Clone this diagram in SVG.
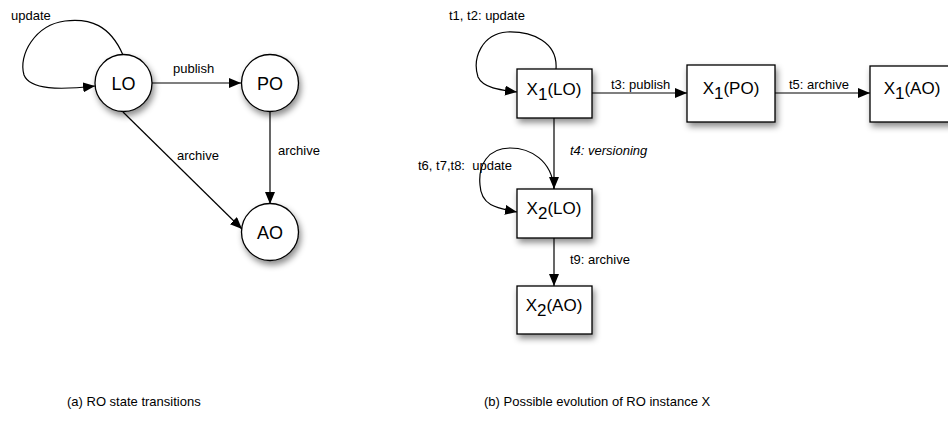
<svg xmlns="http://www.w3.org/2000/svg" width="948" height="424" viewBox="0 0 948 424">
<defs>
<style>
.lbl{font-family:"Liberation Sans",Arial,sans-serif;font-size:13px;fill:#000}
.node{font-family:"Liberation Sans",Arial,sans-serif;font-size:17px;fill:#000}
.st{font-family:"Liberation Sans",Arial,sans-serif;font-size:18px;fill:#000}
.shape{fill:#fff;stroke:#000;stroke-width:1.3;filter:url(#sh)}
.edge{fill:none;stroke:#000;stroke-width:1.2;marker-end:url(#ah)}
</style>
<filter id="sh" x="-30%" y="-30%" width="170%" height="170%">
<feDropShadow dx="2" dy="4" stdDeviation="3" flood-color="#000" flood-opacity="0.45"/>
</filter>
<marker id="ah" markerUnits="userSpaceOnUse" markerWidth="12" markerHeight="10" refX="12" refY="5" orient="auto">
<path d="M0,0 L12,5 L0,10 z" fill="#000"/>
</marker>
</defs>

<g id="connectors">
<path class="edge" d="M123,55 C110,25 90,18 65,21 C35,25 18,55 24,75 C30,90 60,90 95,86"/>
<line class="edge" x1="152" y1="83" x2="241" y2="83"/>
<line class="edge" x1="123" y1="112" x2="242" y2="229"/>
<line class="edge" x1="270" y1="111" x2="270" y2="204"/>
<path class="edge" d="M556,69 C558,42 532,31 507,32 C482,34 472,58 478,77 C483,88 500,90 517,92"/>
<line class="edge" x1="592" y1="93" x2="687" y2="93"/>
<line class="edge" x1="775" y1="93" x2="870" y2="93"/>
<line class="edge" x1="554" y1="118" x2="554" y2="189"/>
<path class="edge" d="M554,189 C552,160 530,148 510,148 C488,148 478,165 480,185 C481,205 495,208 517,212"/>
<line class="edge" x1="554" y1="238" x2="554" y2="286"/>
</g>

<g id="LO"><circle class="shape" cx="123.5" cy="83" r="28.5"/><text class="st" x="123.5" y="89.5" text-anchor="middle">LO</text></g>
<g id="PO"><circle class="shape" cx="270" cy="83" r="28.5"/><text class="st" x="270" y="89.5" text-anchor="middle">PO</text></g>
<g id="AO"><circle class="shape" cx="270" cy="232" r="28.5"/><text class="st" x="270" y="238.5" text-anchor="middle">AO</text></g>

<g id="X1LO"><rect class="shape" x="517" y="69" width="75" height="49"/><text class="node" x="554" y="95" text-anchor="middle">X<tspan dy="5">1</tspan><tspan dy="-5">(LO)</tspan></text></g>
<g id="X1PO"><rect class="shape" x="687" y="65" width="88" height="57"/><text class="node" x="731" y="94" text-anchor="middle">X<tspan dy="5">1</tspan><tspan dy="-5">(PO)</tspan></text></g>
<g id="X1AO"><rect class="shape" x="870" y="66" width="88" height="56"/><text class="node" x="912" y="94" text-anchor="middle">X<tspan dy="5">1</tspan><tspan dy="-5">(AO)</tspan></text></g>
<g id="X2LO"><rect class="shape" x="517" y="189" width="75" height="49"/><text class="node" x="554" y="214" text-anchor="middle">X<tspan dy="5">2</tspan><tspan dy="-5">(LO)</tspan></text></g>
<g id="X2AO"><rect class="shape" x="517" y="286" width="75" height="48"/><text class="node" x="554" y="311" text-anchor="middle">X<tspan dy="5">2</tspan><tspan dy="-5">(AO)</tspan></text></g>

<g id="labels">
<text class="lbl" x="11" y="20">update</text>
<text class="lbl" x="173" y="73">publish</text>
<text class="lbl" x="177" y="160">archive</text>
<text class="lbl" x="278" y="155">archive</text>
<text class="lbl" x="449" y="20">t1, t2: update</text>
<text class="lbl" x="611" y="89">t3: publish</text>
<text class="lbl" x="789" y="89">t5: archive</text>
<text class="lbl" x="570" y="155" font-style="italic">t4: versioning</text>
<text class="lbl" x="418" y="170" xml:space="preserve">t6, t7,t8:  update</text>
<text class="lbl" x="570" y="264">t9: archive</text>
<text class="lbl" x="67" y="406">(a) RO state transitions</text>
<text class="lbl" x="484" y="406">(b) Possible evolution of RO instance X</text>
</g>
</svg>
